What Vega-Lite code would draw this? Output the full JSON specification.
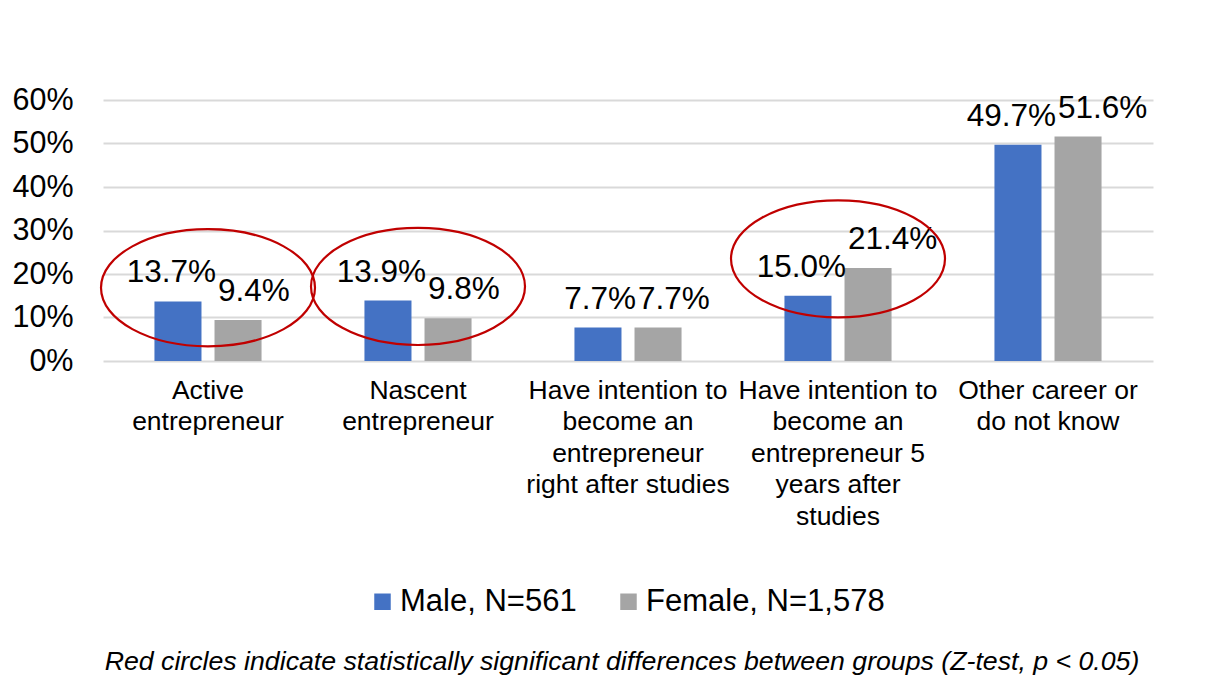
{
  "$schema": "https://vega.github.io/schema/vega-lite/v6.json",
  "width": 1050,
  "height": 261,
  "autosize": {"type": "none"},
  "padding": {"left": 103, "top": 100, "right": 59, "bottom": 330},
  "background": "white",
  "config": {
    "font": "Liberation Sans",
    "view": {"stroke": null}
  },
  "title": {
    "text": "Red circles indicate statistically significant differences between groups (Z-test, p < 0.05)",
    "orient": "bottom",
    "anchor": "middle",
    "frame": "group",
    "fontStyle": "italic",
    "fontWeight": "normal",
    "fontSize": 26.7,
    "color": "black",
    "offset": 32,
    "dx": -6
  },
  "data": {
    "values": [
      {"category": "Active entrepreneur", "series": "Male, N=561", "value": 0.137, "significant": true},
      {"category": "Active entrepreneur", "series": "Female, N=1,578", "value": 0.094, "significant": true},
      {"category": "Nascent entrepreneur", "series": "Male, N=561", "value": 0.139, "significant": true},
      {"category": "Nascent entrepreneur", "series": "Female, N=1,578", "value": 0.098, "significant": true},
      {"category": "Have intention to become an entrepreneur right after studies", "series": "Male, N=561", "value": 0.077, "significant": false},
      {"category": "Have intention to become an entrepreneur right after studies", "series": "Female, N=1,578", "value": 0.077, "significant": false},
      {"category": "Have intention to become an entrepreneur 5 years after studies", "series": "Male, N=561", "value": 0.150, "significant": true},
      {"category": "Have intention to become an entrepreneur 5 years after studies", "series": "Female, N=1,578", "value": 0.214, "significant": true},
      {"category": "Other career or do not know", "series": "Male, N=561", "value": 0.497, "significant": false},
      {"category": "Other career or do not know", "series": "Female, N=1,578", "value": 0.516, "significant": false}
    ]
  },
  "encoding": {
    "x": {
      "field": "category",
      "type": "nominal",
      "sort": null,
      "scale": {"paddingInner": 0.49, "paddingOuter": 0.245},
      "axis": {
        "title": null,
        "labelAngle": 0,
        "domain": false,
        "ticks": false,
        "labelFontSize": 26.5,
        "labelColor": "black",
        "labelLineHeight": 31.5,
        "labelBaseline": "top",
        "labelPadding": 16,
        "labelLimit": 0,
        "labelExpr": "datum.value == 'Active entrepreneur' ? ['Active', 'entrepreneur'] : datum.value == 'Nascent entrepreneur' ? ['Nascent', 'entrepreneur'] : datum.value == 'Have intention to become an entrepreneur right after studies' ? ['Have intention to', 'become an', 'entrepreneur', 'right after studies'] : datum.value == 'Have intention to become an entrepreneur 5 years after studies' ? ['Have intention to', 'become an', 'entrepreneur 5', 'years after', 'studies'] : ['Other career or', 'do not know']"
      }
    },
    "y": {
      "field": "value",
      "type": "quantitative",
      "scale": {"domain": [0, 0.6], "nice": false},
      "axis": {
        "title": null,
        "format": ".0%",
        "values": [0, 0.1, 0.2, 0.3, 0.4, 0.5, 0.6],
        "domain": false,
        "ticks": false,
        "labelFontSize": 30.5,
        "labelColor": "black",
        "labelPadding": 30,
        "gridColor": "#D9D9D9",
        "gridWidth": 2
      }
    }
  },
  "layer": [
    {
      "mark": {"type": "bar"},
      "encoding": {
        "xOffset": {
          "field": "series",
          "type": "nominal",
          "sort": ["Male, N=561", "Female, N=1,578"],
          "scale": {"paddingInner": 0.217, "paddingOuter": 0}
        },
        "color": {
          "field": "series",
          "type": "nominal",
          "sort": ["Male, N=561", "Female, N=1,578"],
          "scale": {"domain": ["Male, N=561", "Female, N=1,578"], "range": ["#4472C4", "#A5A5A5"]},
          "legend": {
            "title": null,
            "orient": "none",
            "direction": "horizontal",
            "legendX": 264,
            "legendY": 486,
            "symbolType": "square",
            "symbolSize": 272,
            "symbolStrokeWidth": 0,
            "labelFontSize": 31,
            "labelColor": "black",
            "labelOffset": 2,
            "columnPadding": 36,
            "labelLimit": 0
          }
        }
      }
    },
    {
      "transform": [{"filter": "datum.series == 'Male, N=561'"}],
      "mark": {"type": "text", "align": "right", "baseline": "alphabetic", "dx": 8, "dy": -19, "fontSize": 31.5, "color": "black"},
      "encoding": {"text": {"field": "value", "type": "quantitative", "format": ".1%"}}
    },
    {
      "transform": [{"filter": "datum.series == 'Female, N=1,578'"}],
      "mark": {"type": "text", "align": "left", "baseline": "alphabetic", "dx": 10, "dy": -19, "fontSize": 31.5, "color": "black"},
      "encoding": {"text": {"field": "value", "type": "quantitative", "format": ".1%"}}
    },
    {
      "transform": [{"filter": "datum.significant"}],
      "mark": {
        "type": "point",
        "shape": "M -1 -0.215 C -1 -0.517 -0.552 -0.762 0 -0.762 C 0.552 -0.762 1 -0.517 1 -0.215 C 1 0.087 0.552 0.332 0 0.332 C -0.552 0.332 -1 0.087 -1 -0.215 Z",
        "filled": false,
        "size": 45796,
        "stroke": "#C00000",
        "strokeWidth": 2.2,
        "opacity": 1
      },
      "encoding": {
        "y": {"aggregate": "mean", "field": "value", "type": "quantitative"}
      }
    }
  ]
}
